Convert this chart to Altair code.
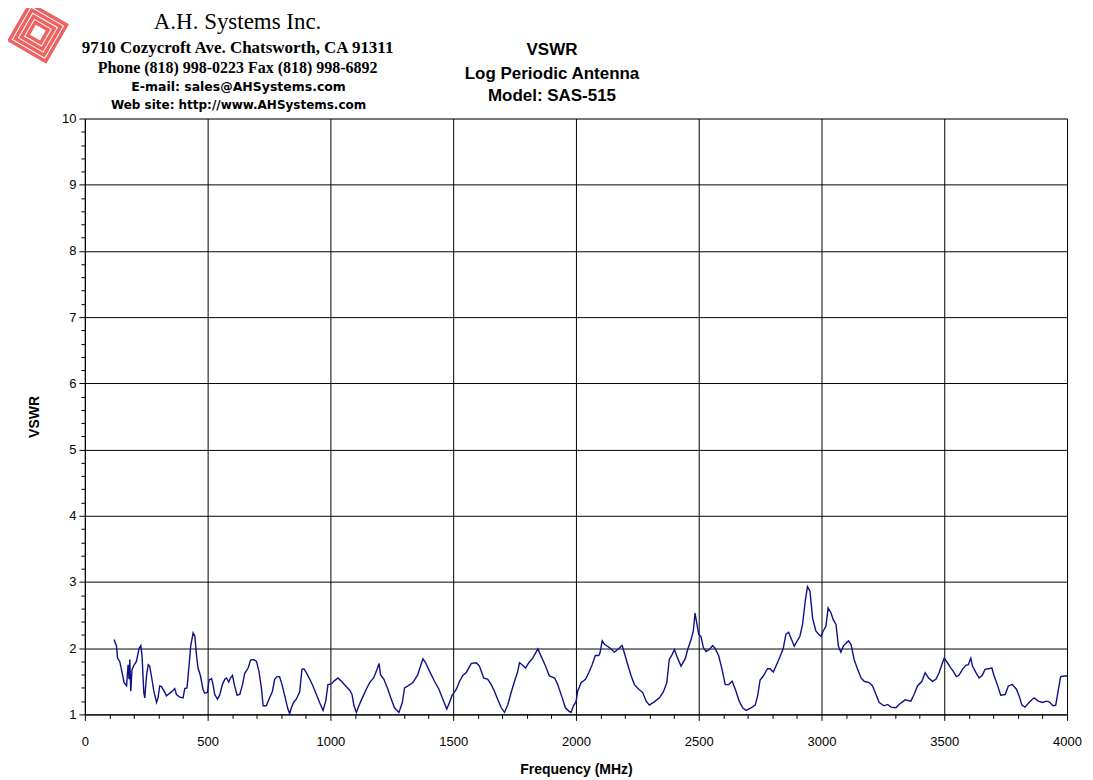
import altair as alt
import pandas as pd
import numpy as np

freq = [119,129,133,142,149,160,170,176,180,183,187,192,201,210,221,228,233,240,244,251,
        258,264,271,281,292,298,305,312,326,332,339,353,366,373,387,400,407,416,423,431,
        441,448,455,461,471,481,488,499,506,516,522,529,540,549,560,570,577,586,593,601,
        610,620,631,642,651,665,675,688,699,709,719,726,739,750,764,773,782,793,803,814,
        827,834,841,850,861,875,884,892,902,916,929,943,956,970,981,990,1004,1017,1031,1045,
        1062,1078,1088,1096,1106,1116,1130,1146,1160,1176,1187,1198,1204,1218,1234,1248,1261,1279,1293,1302,
        1316,1336,1356,1367,1377,1388,1404,1424,1442,1458,1474,1485,1496,1502,1513,1526,1539,1553,1574,1594,
        1607,1624,1641,1655,1668,1682,1696,1709,1723,1736,1750,1763,1770,1781,1795,1808,1824,1845,1858,1876,
        1892,1913,1926,1944,1957,1971,1980,1990,2001,2007,2021,2039,2052,2066,2079,2093,2098,2107,2116,2136,
        2157,2170,2188,2197,2211,2225,2238,2256,2272,2286,2299,2319,2340,2356,2370,2380,2391,2401,2414,2428,
        2446,2455,2469,2478,2485,2493,2500,2509,2519,2530,2543,2557,2568,2581,2595,2608,2622,2636,2649,2665,
        2679,2693,2713,2730,2740,2750,2763,2780,2790,2804,2817,2831,2844,2855,2866,2876,2889,2898,2912,2923,
        2934,2943,2953,2964,2977,2988,2998,3007,3018,3027,3038,3048,3059,3069,3079,3090,3110,3120,3133,3147,
        3161,3174,3194,3208,3222,3235,3255,3269,3283,3303,3316,3341,3364,3377,3391,3409,3422,3436,3452,3466,
        3479,3490,3500,3513,3527,3537,3549,3560,3574,3588,3598,3608,3615,3629,3642,3655,3666,3680,3694,3703,
        3716,3730,3748,3761,3777,3794,3805,3816,3829,3845,3866,3883,3900,3916,3927,3943,3954,3965,3974,3988,
        4000]

vswr = [2.13,2.03,1.85,1.80,1.68,1.48,1.43,1.75,1.53,1.83,1.35,1.68,1.75,1.80,2.00,2.04,1.88,1.33,1.25,1.58,
        1.75,1.73,1.58,1.35,1.18,1.25,1.43,1.42,1.33,1.28,1.30,1.34,1.39,1.30,1.26,1.25,1.39,1.40,1.68,2.03,
        2.23,2.18,1.88,1.70,1.58,1.38,1.32,1.33,1.52,1.54,1.45,1.30,1.23,1.29,1.45,1.53,1.55,1.49,1.55,1.59,
        1.43,1.29,1.30,1.45,1.62,1.70,1.82,1.83,1.80,1.65,1.40,1.13,1.13,1.23,1.35,1.53,1.57,1.57,1.45,1.28,
        1.08,1.01,1.10,1.18,1.23,1.34,1.68,1.69,1.63,1.53,1.43,1.30,1.18,1.06,1.20,1.45,1.46,1.51,1.55,1.50,
        1.43,1.37,1.30,1.13,1.03,1.13,1.25,1.38,1.48,1.55,1.65,1.77,1.60,1.53,1.38,1.23,1.10,1.03,1.18,1.40,
        1.43,1.48,1.60,1.73,1.84,1.78,1.65,1.50,1.38,1.23,1.08,1.18,1.29,1.32,1.38,1.50,1.59,1.63,1.77,1.78,
        1.73,1.55,1.53,1.45,1.35,1.22,1.10,1.03,1.15,1.33,1.50,1.65,1.78,1.75,1.70,1.78,1.85,1.99,1.88,1.73,
        1.58,1.55,1.45,1.25,1.10,1.05,1.03,1.13,1.20,1.35,1.48,1.53,1.63,1.75,1.89,1.89,1.93,2.11,2.06,2.01,
        1.94,1.98,2.04,1.93,1.75,1.58,1.45,1.38,1.33,1.20,1.14,1.19,1.25,1.34,1.48,1.83,1.90,1.98,1.85,1.73,
        1.85,1.98,2.13,2.26,2.53,2.36,2.21,2.18,2.01,1.95,1.98,2.04,1.99,1.89,1.68,1.45,1.45,1.50,1.38,1.20,
        1.10,1.06,1.10,1.14,1.28,1.52,1.58,1.69,1.69,1.64,1.75,1.87,1.99,2.21,2.24,2.15,2.03,2.09,2.18,2.36,
        2.72,2.93,2.86,2.45,2.26,2.21,2.18,2.26,2.33,2.61,2.54,2.43,2.36,2.03,1.94,2.04,2.11,2.06,1.83,1.68,
        1.55,1.50,1.48,1.43,1.30,1.18,1.13,1.15,1.11,1.10,1.15,1.22,1.20,1.30,1.43,1.50,1.63,1.55,1.50,1.53,
        1.63,1.75,1.85,1.78,1.70,1.65,1.57,1.59,1.68,1.74,1.75,1.85,1.73,1.63,1.55,1.59,1.68,1.69,1.70,1.58,
        1.45,1.29,1.30,1.43,1.45,1.38,1.28,1.14,1.11,1.18,1.25,1.20,1.18,1.20,1.19,1.13,1.14,1.38,1.57,1.58,
        1.58]

x_ticks = list(range(0, 4001, 100))
y_ticks = [round(v, 1) for v in np.arange(1.0, 10.001, 0.2)]

company_lines = ["A.H. Systems Inc.",
                 "9710 Cozycroft Ave. Chatsworth, CA 91311",
                 "Phone (818) 998-0223 Fax (818) 998-6892",
                 "E-mail: sales@AHSystems.com",
                 "Web site: http://www.AHSystems.com"]
title_lines = ["VSWR", "Log Periodic Antenna", "Model: SAS-515"]

df = pd.DataFrame({"Frequency": freq, "VSWR": vswr})

FONT = "Liberation Sans"

x_major = "abs(datum.value % 500) < 0.01"
y_major = "abs(datum.value - round(datum.value)) < 0.01"

line = alt.Chart(df).mark_line(color="#10108a", strokeWidth=1.4).encode(
    x=alt.X("Frequency:Q",
            scale=alt.Scale(domain=[0, 4000], nice=False, zero=False),
            axis=alt.Axis(title="Frequency (MHz)", values=x_ticks,
                          labelExpr=f"{x_major} ? toString(datum.value) : ''",
                          grid=True, gridColor="black", gridWidth=1,
                          gridOpacity={"condition": {"test": x_major, "value": 1}, "value": 0},
                          tickSize={"condition": {"test": x_major, "value": 6}, "value": 4},
                          tickColor="black", domainColor="black",
                          labelFont=FONT, labelFontSize=13, labelColor="black",
                          labelPadding=15, titleFont=FONT, titleFontSize=14,
                          titleFontWeight="bold", titleColor="black", titlePadding=14,
                          labelFlush=False, labelOverlap=False)),
    y=alt.Y("VSWR:Q",
            scale=alt.Scale(domain=[1, 10], nice=False, zero=False),
            axis=alt.Axis(title="VSWR", values=y_ticks,
                          labelExpr=f"{y_major} ? toString(round(datum.value)) : ''",
                          grid=True, gridColor="black", gridWidth=1,
                          gridOpacity={"condition": {"test": y_major, "value": 1}, "value": 0},
                          tickSize={"condition": {"test": y_major, "value": 6}, "value": 4},
                          tickColor="black", domainColor="black",
                          labelFont=FONT, labelFontSize=13, labelColor="black",
                          labelPadding=3, titleFont=FONT, titleFontSize=14,
                          titleFontWeight="bold", titleColor="black", titlePadding=20,
                          labelFlush=False, labelOverlap=False)),
)

def txt(s, x, y, font, size, weight="normal"):
    return alt.Chart(pd.DataFrame({"t": [s]})).mark_text(
        font=font, fontSize=size, fontWeight=weight, color="black",
        align="center", baseline="alphabetic").encode(
        text="t:N", x=alt.value(x), y=alt.value(y))

layers = [line]
# company header
layers.append(txt(company_lines[0], 153, -90, "Liberation Serif", 23))
layers.append(txt(company_lines[1], 153, -66, "Liberation Serif", 17, "bold"))
layers.append(txt(company_lines[2], 153, -46, "Liberation Serif", 16, "bold"))
layers.append(txt(company_lines[3], 154, -28, "DejaVu Sans", 12.5, "bold"))
layers.append(txt(company_lines[4], 154, -10, "DejaVu Sans", 12, "bold"))
# chart title
layers.append(txt(title_lines[0], 468, -64, FONT, 17, "bold"))
layers.append(txt(title_lines[1], 468, -40, FONT, 17, "bold"))
layers.append(txt(title_lines[2], 468, -18, FONT, 17, "bold"))

# logo (simple concentric red squares)
logo_df = pd.DataFrame({"t": ["logo"]})
for side in [42, 33, 24, 15]:
    layers.append(alt.Chart(logo_df).mark_square(
        filled=False, stroke="#e82020", strokeWidth=3.5, angle=30, size=side * side).encode(
        x=alt.value(-47), y=alt.value(-86)))

chart = alt.layer(*layers).properties(
    width=984, height=597,
    padding={"left": 77, "top": 110, "right": 18, "bottom": 62},
    autosize=alt.AutoSizeParams(type="none"),
).configure_view(stroke="#808080", strokeWidth=1).configure(background="white")

chart.save("out.html", embed_options={"renderer": "svg", "actions": False})
